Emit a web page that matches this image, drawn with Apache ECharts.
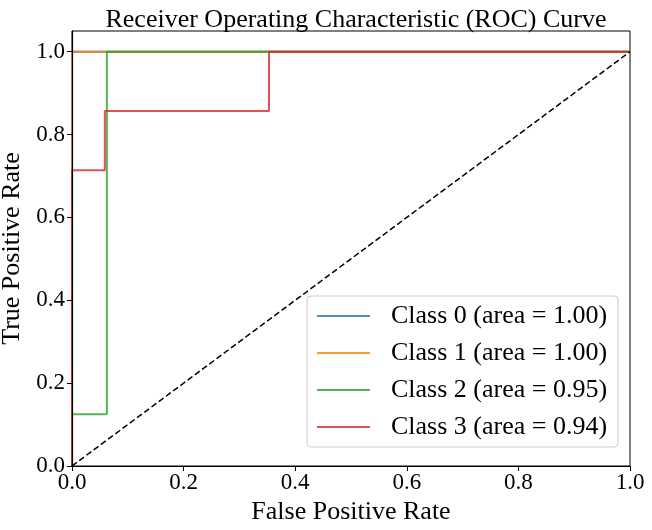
<!DOCTYPE html>
<html><head><meta charset="utf-8">
<script src="https://cdn.jsdelivr.net/npm/echarts@6/dist/echarts.min.js"></script>
<style>html,body{margin:0;padding:0;background:#fff}#c{width:652px;height:530px}</style>
</head><body><div id="c"></div>
<script>
const classNames = ['Class 0 (area = 1.00)', 'Class 1 (area = 1.00)', 'Class 2 (area = 0.95)', 'Class 3 (area = 0.94)'];
const colors = ['#1f77b4', '#ff7f0e', '#2ca02c', '#d62728'];
const fpr0 = [0, 0, 1];
const tpr0 = [0, 1, 1];
const fpr1 = [0, 0, 1];
const tpr1 = [0, 1, 1];
const fpr2 = [0, 0, 0.0625, 0.0625, 1];
const tpr2 = [0, 0.125, 0.125, 1, 1];
const fpr3 = [0, 0, 0.0588, 0.0588, 0.353, 0.353, 1];
const tpr3 = [0, 0.714, 0.714, 0.857, 0.857, 1, 1];
const diagX = [0, 1];
const diagY = [0, 1];
const tickValues = [0, 0.2, 0.4, 0.6, 0.8, 1.0];

const fprs = [fpr0, fpr1, fpr2, fpr3];
const tprs = [tpr0, tpr1, tpr2, tpr3];
const font = 'Liberation Serif, Times New Roman, serif';

const series = classNames.map((n, i) => ({
  name: n, type: 'line', showSymbol: false, symbol: 'none',
  data: fprs[i].map((x, j) => [x, tprs[i][j]]),
  lineStyle: { color: colors[i], width: 2, opacity: 0.8 },
  itemStyle: { color: colors[i], opacity: 0.8 },
  z: 2 + i, animation: false
}));
series.push({
  name: 'diag', type: 'line', showSymbol: false, symbol: 'none',
  data: diagX.map((x, j) => [x, diagY[j]]),
  lineStyle: { color: '#000', width: 1.5, type: [6, 3] }, z: 10, animation: false
});

const chart = echarts.init(document.getElementById('c'), null, { renderer: 'canvas' });
chart.setOption({
  animation: false,
  backgroundColor: '#fff',
  title: { text: 'Receiver Operating Characteristic (ROC) Curve', left: 351, textAlign: 'center', top: 2,
    textStyle: { fontFamily: font, fontSize: 26, fontWeight: 'normal', color: '#000' } },
  grid: { left: 72, right: 22, top: 31, bottom: 64, outerBoundsMode: 'none', containLabel: false,
    show: true, borderColor: '#000', borderWidth: 1, backgroundColor: 'transparent' },
  xAxis: {
    type: 'value', min: 0, max: 1, interval: 0.2, z: 20,
    name: 'False Positive Rate', nameLocation: 'middle', nameGap: 30,
    nameTextStyle: { fontFamily: font, fontSize: 26, color: '#000' },
    axisLine: { show: true, lineStyle: { color: '#000', width: 1.2 } },
    axisTick: { show: true, length: 5, lineStyle: { color: '#000' }, customValues: tickValues },
    axisLabel: { fontFamily: font, fontSize: 23, color: '#000', margin: 5, customValues: tickValues, formatter: v => v.toFixed(1) },
    splitLine: { show: false }
  },
  yAxis: {
    type: 'value', min: 0, max: 1.05, interval: 0.2, z: 20,
    name: 'True Positive Rate', nameLocation: 'middle', nameGap: 37,
    nameTextStyle: { fontFamily: font, fontSize: 26, color: '#000' },
    axisLine: { show: true, lineStyle: { color: '#000', width: 1.2 } },
    axisTick: { show: true, length: 5, lineStyle: { color: '#000' }, customValues: tickValues },
    axisLabel: { fontFamily: font, fontSize: 23, color: '#000', margin: 7, customValues: tickValues, formatter: v => v.toFixed(1) },
    splitLine: { show: false }
  },
  legend: {
    data: classNames.map(n => ({ name: n, icon: 'rect' })),
    orient: 'vertical', left: 307, top: 296,
    itemWidth: 53, itemHeight: 2, itemGap: 9,
    padding: [6, 11, 6, 10],
    backgroundColor: 'rgba(255,255,255,0.8)', borderColor: '#ccc', borderWidth: 1, borderRadius: 4,
    textStyle: { fontFamily: font, fontSize: 26, color: '#000', lineHeight: 28, padding: [0, 0, 0, 16] },
    selectedMode: false
  },
  series: series
});
</script></body></html>
